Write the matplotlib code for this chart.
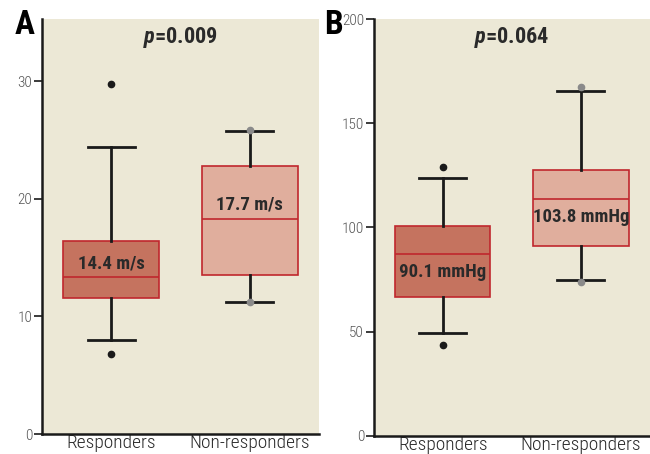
import matplotlib
matplotlib.use("Agg")
import matplotlib.pyplot as plt

plt.rcParams["font.family"] = ["Roboto Condensed", "DejaVu Sans"]
plt.rcParams["mathtext.fontset"] = "custom"
plt.rcParams["mathtext.bfit"] = "Roboto Condensed:italic:bold"
plt.rcParams["mathtext.bf"] = "Roboto Condensed:bold"

groups = ["Responders", "Non-responders"]

# panel A: velocity (m/s)
a_whislo = [8.0, 11.2]
a_q1 = [11.6, 13.5]
a_med = [13.4, 18.3]
a_q3 = [16.4, 22.8]
a_whishi = [24.4, 25.8]
a_fliers = [[29.8, 6.8], [25.9, 11.2]]
a_means = ["14.4 m/s", "17.7 m/s"]
a_label_y = [14.5, 19.5]
a_yticks = [0, 10, 20, 30]

# panel B: pressure (mmHg)
b_whislo = [49.4, 74.8]
b_q1 = [66.7, 91.1]
b_med = [87.3, 113.7]
b_q3 = [100.7, 127.6]
b_whishi = [123.7, 165.5]
b_fliers = [[129.0, 43.6], [167.4, 73.9]]
b_means = ["90.1 mmHg", "103.8 mmHg"]
b_label_y = [78.7, 105.0]
b_yticks = [0, 50, 100, 150, 200]

bg = "#ECE8D6"
box_fills = ["#C5735F", "#E0AE9D"]
flier_colors = ["#1a1a1a", "#8a8a8a"]
edge = "#C0272D"


def draw_panel(ax, whislo, q1, med, q3, whishi, fliers, means, label_y,
               yticks, ylim, pval):
    ax.set_facecolor(bg)
    for i in range(2):
        stats = [dict(whislo=whislo[i], q1=q1[i], med=med[i], q3=q3[i],
                      whishi=whishi[i], fliers=fliers[i])]
        ax.bxp(stats, positions=[i + 1], widths=0.69, patch_artist=True,
               showfliers=True,
               boxprops=dict(facecolor=box_fills[i], edgecolor=edge, linewidth=1.2),
               medianprops=dict(color=edge, linewidth=1.2),
               whiskerprops=dict(color="#1a1a1a", linewidth=2),
               capprops=dict(color="#1a1a1a", linewidth=2),
               capwidths=0.34,
               flierprops=dict(marker="o", markersize=4.5,
                               markerfacecolor=flier_colors[i],
                               markeredgecolor=flier_colors[i]))
        ax.text(i + 1, label_y[i], means[i], ha="center", va="center",
                fontsize=13.5, fontweight="bold", color="#2a2a2a")
    ax.set_xlim(0.5, 2.5)
    ax.set_ylim(*ylim)
    ax.set_yticks(yticks)
    ax.set_xticks([1, 2])
    ax.set_xticklabels(groups, fontsize=14, color="#2a2a2a", fontweight="light")
    ax.tick_params(axis="x", length=0, pad=0)
    ax.tick_params(axis="y", length=6, width=1.2, direction="out",
                   labelsize=11, colors="#1a1a1a", labelcolor="#555555", pad=1)
    for lbl in ax.get_yticklabels():
        lbl.set_fontweight("light")
    for s in ["top", "right"]:
        ax.spines[s].set_visible(False)
    for s in ["left", "bottom"]:
        ax.spines[s].set_linewidth(1.8)
        ax.spines[s].set_color("#1a1a1a")
    ax.text(0.5, 0.985, r"$\mathbfit{p}$" + "=" + pval, transform=ax.transAxes,
            ha="center", va="top", fontsize=16, fontweight="bold", color="#2a2a2a")


fig = plt.figure(figsize=(6.5, 4.54), dpi=100)
axA = fig.add_axes([0.0646, 0.044, 0.4262, 0.914])
axB = fig.add_axes([0.575, 0.040, 0.425, 0.918])

draw_panel(axA, a_whislo, a_q1, a_med, a_q3, a_whishi, a_fliers, a_means,
           a_label_y, a_yticks, (0, 35.3), "0.009")
draw_panel(axB, b_whislo, b_q1, b_med, b_q3, b_whishi, b_fliers, b_means,
           b_label_y, b_yticks, (0, 200), "0.064")

fig.text(0.038, 0.945, "A", fontsize=24, fontweight="bold", ha="center", va="center")
fig.text(0.513, 0.945, "B", fontsize=24, fontweight="bold", ha="center", va="center")

fig.savefig("out.png", dpi=100)
